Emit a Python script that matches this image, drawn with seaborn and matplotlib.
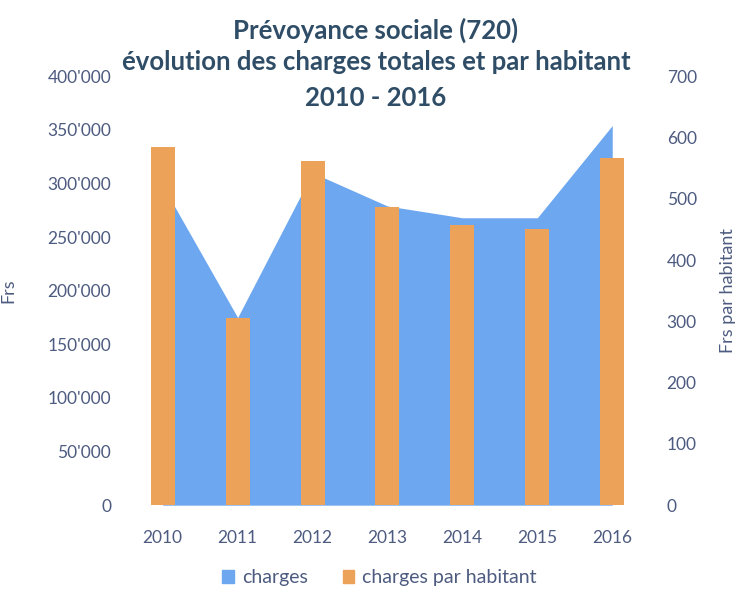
import seaborn as sns
import matplotlib.pyplot as plt
import pandas as pd
from matplotlib.patches import Patch
from matplotlib.ticker import FuncFormatter

years = ["2010", "2011", "2012", "2013", "2014", "2015", "2016"]
charges = [298000, 175000, 310000, 279000, 268000, 268000, 354000]
charges_hab = [584, 305, 561, 486, 457, 450, 566]

df = pd.DataFrame({"annee": years, "charges": charges, "par_hab": charges_hab})

sns.set_theme(style="white")
plt.rcParams["font.family"] = ["Lato", "DejaVu Sans"]

blue = "#6ca7ef"
orange = "#eda25a"
tick_col = "#4d5b80"
title_col = "#2f4d66"

fig = plt.figure(figsize=(7.37, 6.05), dpi=100)
ax = fig.add_axes([0.2035, 0.165, 0.6445, 0.709])

# area for total charges (left axis)
ax.fill_between(range(len(years)), df["charges"], color=blue, linewidth=0)
ax.set_ylim(0, 400000)
ax.set_yticks(range(0, 400001, 50000))
ax.yaxis.set_major_formatter(FuncFormatter(lambda v, p: f"{int(v):,}".replace(",", "'")))
ax.set_ylabel("Frs", color=tick_col, fontsize=13, labelpad=22)

# bars for charges per inhabitant (right axis)
ax2 = ax.twinx()
sns.barplot(data=df, x="annee", y="par_hab", color=orange, width=0.32,
            saturation=1, linewidth=0, ax=ax2)
ax2.set_ylim(0, 700)
ax2.set_yticks(range(0, 701, 100))
ax2.set_ylabel("Frs par habitant", color=tick_col, fontsize=13, labelpad=17)
ax2.set_xlabel("")
ax.set_xlim(-0.17, 6.17)
ax.set_xticks(range(len(years)), years)

for a in (ax, ax2):
    for s in a.spines.values():
        s.set_visible(False)
    a.tick_params(axis="both", length=0, labelsize=12.5, colors=tick_col)
ax.tick_params(axis="y", pad=28)
ax.tick_params(axis="x", pad=18)
ax2.tick_params(axis="y", pad=30)

for y, line in [(0.95, "Prévoyance sociale (720)"),
                (0.897, "évolution des charges totales et par habitant"),
                (0.838, "2010 - 2016")]:
    fig.text(0.51, y, line, ha="center", va="center",
             fontsize=18.5, fontweight="bold", color=title_col)

handles = [Patch(color=blue, label="charges"),
           Patch(color=orange, label="charges par habitant")]
fig.legend(handles=handles, loc="center", bbox_to_anchor=(0.515, 0.045), ncol=2,
           frameon=False, fontsize=14, handlelength=0.6, handleheight=0.6,
           handletextpad=0.4, columnspacing=1.8, labelcolor=tick_col)

fig.savefig("out.png", dpi=100)
